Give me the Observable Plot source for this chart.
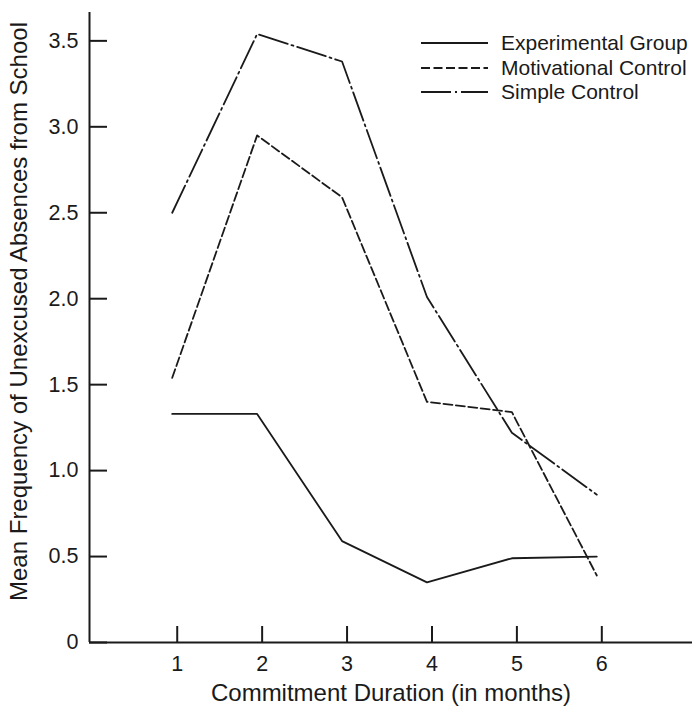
<!DOCTYPE html>
<html><head><meta charset="utf-8">
<script src="https://cdn.jsdelivr.net/npm/d3@7"></script>
<script src="https://cdn.jsdelivr.net/npm/@observablehq/plot@0.6"></script>
<style>
body{margin:0;background:#fff;}
#chart{position:relative;width:692px;height:708px;font-family:"Liberation Sans",Arial,Helvetica,sans-serif;color:#1a1a1a;}
#legend{position:absolute;left:421px;top:31px;}
#legend .row{display:flex;align-items:center;height:24.5px;}
#legend .row svg{display:block;margin-right:13px;}
#legend .row span{font-size:21px;line-height:24.5px;white-space:nowrap;}
</style></head><body><div id="chart"><div id="legend"></div></div>
<script>
// ---- data ----
const months = [1, 2, 3, 4, 5, 6];
const seriesNames = ["Experimental Group", "Motivational Control", "Simple Control"];
const experimental = [1.33, 1.33, 0.59, 0.35, 0.49, 0.50];
const motivational = [1.54, 2.95, 2.59, 1.40, 1.34, 0.39];
const simple = [2.50, 3.54, 3.38, 2.01, 1.22, 0.86];
const yTicks = [0, 0.5, 1.0, 1.5, 2.0, 2.5, 3.0, 3.5];
const yTickLabels = ["0", "0.5", "1.0", "1.5", "2.0", "2.5", "3.0", "3.5"];
const xTickLabels = ["1", "2", "3", "4", "5", "6"];
const xLabel = "Commitment Duration (in months)";
const yLabel = "Mean Frequency of Unexcused Absences from School";

// ---- styles ----
const dashes = ["none", "9,3.5", "30,4,2,4"];
const lineWidth = 1.8;
const xDomain = [-0.033, 7.068];
const yDomain = [0, 3.665];
const valuesBySeries = [experimental, motivational, simple];

const rows = seriesNames.map((s, si) => months.map((m, i) => ({series: s, month: m, value: valuesBySeries[si][i]})));

const chart = Plot.plot({
  width: 692,
  height: 708,
  marginLeft: 89,
  marginRight: 0,
  marginTop: 12,
  marginBottom: 66,
  style: {fontFamily: '"Liberation Sans", Arial, Helvetica, sans-serif', fontSize: "22px", color: "#1a1a1a", background: "white"},
  x: {domain: xDomain},
  y: {domain: yDomain},
  marks: [
    Plot.ruleX([xDomain[0]], {stroke: "#1a1a1a", strokeWidth: 2}),
    Plot.ruleY([0], {stroke: "#1a1a1a", strokeWidth: 2}),
    Plot.axisX(months, {
      tickSize: -16, tickPadding: 29, strokeWidth: 2, stroke: "#1a1a1a",
      tickFormat: (d, i) => xTickLabels[i], fontSize: 21.5, label: null
    }),
    Plot.axisX([], {
      tickSize: 0, fontSize: 24,
      label: xLabel, labelAnchor: "center", labelOffset: 58, labelArrow: "none"
    }),
    Plot.axisY(yTicks, {
      tickSize: -18, tickPadding: 29, strokeWidth: 2, stroke: "#1a1a1a",
      tickFormat: (d, i) => yTickLabels[i], fontSize: 21.5, label: null
    }),
    Plot.text([yLabel], {
      text: (d) => d, frameAnchor: "left", rotate: -90, lineAnchor: "top", textAnchor: "middle",
      dx: -80, dy: -16, fontSize: 24, fill: "#1a1a1a"
    }),
    ...rows.map((r, si) => Plot.line(r, {
      x: "month", y: "value", stroke: "#1a1a1a", strokeWidth: lineWidth,
      strokeDasharray: dashes[si] === "none" ? null : dashes[si], dx: -5
    }))
  ]
});
document.getElementById("chart").prepend(chart);

// legend
const legend = document.getElementById("legend");
seriesNames.forEach((s, si) => {
  const row = document.createElement("div");
  row.className = "row";
  const svg = d3.create("svg").attr("width", 67).attr("height", 24);
  svg.append("line").attr("x1", 0).attr("x2", 67).attr("y1", 12).attr("y2", 12)
    .attr("stroke", "#1a1a1a").attr("stroke-width", lineWidth)
    .attr("stroke-dasharray", dashes[si] === "none" ? null : dashes[si]);
  row.appendChild(svg.node());
  const span = document.createElement("span");
  span.textContent = s;
  row.appendChild(span);
  legend.appendChild(row);
});
</script>
</body></html>
